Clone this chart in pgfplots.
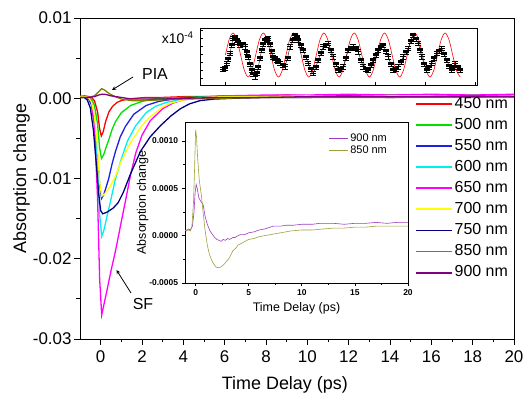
\documentclass[border=0pt]{standalone}
\usepackage{pgfplots}
\pgfplotsset{compat=1.18}
\usepackage{fontspec}
\setmainfont{Liberation Sans}
\definecolor{c450}{RGB}{255,0,0}
\definecolor{c500}{RGB}{0,225,0}
\definecolor{c550}{RGB}{30,30,230}
\definecolor{c600}{RGB}{0,240,240}
\definecolor{c650}{RGB}{255,0,255}
\definecolor{c700}{RGB}{255,255,0}
\definecolor{c750}{RGB}{0,0,128}
\definecolor{c850}{RGB}{128,128,0}
\definecolor{c900}{RGB}{128,0,128}
\definecolor{i850}{RGB}{160,160,60}
\definecolor{i900}{RGB}{160,60,190}
\begin{document}
\begin{tikzpicture}
\useasboundingbox (0bp,0bp) rectangle (524bp,395bp);
% ---------------- main axis
\begin{axis}[at={(80bp,56bp)}, anchor=south west, scale only axis,
  width=434bp, height=321bp,
  xmin=-1, xmax=20, ymin=-0.03, ymax=0.01,
  axis line style={line width=1pt},
  xtick={0,2,...,20}, minor x tick num=1,
  ytick={-0.03,-0.02,-0.01,0,0.01}, minor y tick num=1,
  xtick pos=lower, ytick pos=left, tick align=outside,
  major tick length=6bp, minor tick length=3.5bp,
  tick style={black, line width=1pt},
  scaled y ticks=false,
  ticklabel style={font=\fontsize{17}{20}\selectfont},
  /pgf/number format/assume math mode=true,
  yticklabel style={/pgf/number format/fixed, /pgf/number format/fixed zerofill, /pgf/number format/precision=2, xshift=1bp},
  xticklabel style={yshift=-2bp},
  xlabel={Time Delay (ps)}, ylabel={Absorption change},
  label style={font=\fontsize{18}{21}\selectfont},
  xlabel style={at={(axis description cs:0.472,-0.158)}, anchor=base},
  ylabel style={at={(axis description cs:-0.124,0.5)}, anchor=base},
  legend style={draw=none, fill=none, at={(rel axis cs:0.772,0.762)}, anchor=north west,
    font=\fontsize{16}{19}\selectfont, inner sep=0pt, row sep=2.6bp,
    nodes={inner sep=1.5bp, text height=12bp, text depth=3.5bp}},
  legend cell align=left,
  legend image code/.code={\draw[#1, line width=1.9pt] (0bp,0bp) -- (36bp,0bp);},
  every axis plot/.append style={line width=1.3pt},
]
\addplot[c450] coordinates {(-1,0.0002) (-0.8,0.0003) (-0.6,0.0002) (-0.45,0.0001) (-0.3,-0.0003) (-0.15,-0.0017) (-0.05,-0.0038) (0.03,-0.0047) (0.12,-0.0042) (0.24,-0.0029) (0.4,-0.0017) (0.58,-0.0010) (0.8,-0.0005) (1.0,-0.0003) (1.3,-0.0001) (1.7,0.0000) (2.2,0.0001) (3,0.0001) (4,0.0002) (5,0.0002) (6,0.0003) (7,0.0002) (8,0.0003) (9,0.0004) (10,0.0003) (11,0.0004) (12,0.0003) (13,0.0004) (14,0.0004) (15,0.0003) (16,0.0004) (17,0.0004) (18,0.0003) (19,0.0004) (20,0.0004)};
\addlegendentry{450 nm}
\addplot[c500] coordinates {(-1,0.0002) (-0.8,0.0002) (-0.6,0.0002) (-0.45,0.0000) (-0.3,-0.0009) (-0.15,-0.0032) (-0.05,-0.0062) (0.04,-0.0075) (0.15,-0.0070) (0.25,-0.0062) (0.39,-0.0052) (0.55,-0.0039) (0.72,-0.0029) (1.0,-0.0018) (1.45,-0.0009) (2.0,-0.0004) (2.5,-0.0001) (3,0.0000) (4,0.0001) (5,0.0002) (6,0.0002) (8,0.0003) (10,0.0003) (12,0.0003) (14,0.0004) (16,0.0003) (18,0.0004) (20,0.0004)};
\addlegendentry{500 nm}
\addplot[c550] coordinates {(-1,0.0002) (-0.8,0.0002) (-0.6,0.0000) (-0.45,-0.0008) (-0.3,-0.0032) (-0.15,-0.0072) (-0.05,-0.0108) (0.04,-0.0125) (0.15,-0.0120) (0.25,-0.0112) (0.39,-0.0100) (0.55,-0.0082) (0.72,-0.0066) (0.95,-0.0048) (1.2,-0.0035) (1.6,-0.0020) (2.2,-0.0009) (2.8,-0.0004) (3.5,-0.0001) (4.5,0.0001) (6,0.0002) (8,0.0002) (10,0.0003) (12,0.0003) (14,0.0002) (16,0.0003) (18,0.0003) (20,0.0003)};
\addlegendentry{550 nm}
\addplot[c600] coordinates {(-1,0.0002) (-0.8,0.0002) (-0.6,0.0001) (-0.45,-0.0004) (-0.3,-0.0028) (-0.15,-0.0085) (-0.05,-0.0145) (0.05,-0.0172) (0.15,-0.0165) (0.3,-0.0148) (0.48,-0.0128) (0.7,-0.0102) (0.97,-0.0078) (1.3,-0.0053) (1.7,-0.0034) (2.2,-0.0018) (2.66,-0.0010) (3.2,-0.0005) (4,-0.0001) (5,0.0001) (6,0.0002) (8,0.0002) (10,0.0003) (12,0.0002) (14,0.0003) (16,0.0003) (18,0.0002) (20,0.0003)};
\addlegendentry{600 nm}
\addplot[c650] coordinates {(-1,0.0002) (-0.8,0.0002) (-0.6,0.0002) (-0.45,-0.0003) (-0.3,-0.0035) (-0.15,-0.0125) (-0.05,-0.0225) (0.05,-0.0270) (0.15,-0.0258) (0.3,-0.0240) (0.5,-0.0215) (0.72,-0.0190) (0.95,-0.0160) (1.2,-0.0128) (1.45,-0.0095) (1.7,-0.0068) (2.0,-0.0046) (2.4,-0.0028) (3.0,-0.0013) (3.5,-0.0006) (4,-0.0002) (5,0.0001) (6,0.0003) (8,0.0004) (10,0.0004) (12,0.0005) (14,0.0004) (16,0.0005) (18,0.0004) (20,0.0005)};
\addlegendentry{650 nm}
\addplot[c700] coordinates {(-1,0.0002) (-0.8,0.0002) (-0.6,0.0001) (-0.45,-0.0004) (-0.3,-0.0022) (-0.15,-0.0063) (-0.05,-0.0105) (0.05,-0.0122) (0.2,-0.0119) (0.45,-0.0110) (0.72,-0.0097) (1.0,-0.0078) (1.45,-0.0055) (2.0,-0.0034) (2.4,-0.0023) (3.0,-0.0011) (3.4,-0.0006) (4,-0.0002) (5,0.0001) (6,0.0002) (8,0.0002) (10,0.0003) (12,0.0002) (14,0.0003) (16,0.0003) (18,0.0002) (20,0.0003)};
\addlegendentry{700 nm}
\addplot[c750] coordinates {(-1,0.0001) (-0.8,0.0001) (-0.65,-0.0002) (-0.5,-0.0012) (-0.35,-0.0040) (-0.2,-0.0085) (-0.1,-0.0118) (0.0,-0.0140) (0.1,-0.0144) (0.3,-0.0142) (0.6,-0.0137) (0.85,-0.0130) (1.1,-0.0117) (1.45,-0.0094) (1.93,-0.0066) (2.4,-0.0048) (2.9,-0.0034) (3.4,-0.0022) (3.86,-0.0013) (4.3,-0.0007) (4.8,-0.0003) (5.5,-0.0001) (6.5,0.0000) (8,0.0001) (10,0.0001) (12,0.0002) (14,0.0001) (16,0.0002) (18,0.0002) (20,0.0002)};
\addlegendentry{750 nm}
\addplot[c850] coordinates {(-1,0.0001) (-0.6,0.0001) (-0.3,0.0003) (-0.1,0.0008) (0.05,0.0012) (0.2,0.0010) (0.4,0.0006) (0.7,0.0002) (1.0,-0.0001) (1.5,-0.0003) (2.0,-0.0003) (3,-0.0002) (4,-0.0001) (6,0.0000) (8,0.0001) (10,0.0001) (14,0.0001) (20,0.0002)};
\addlegendentry{850 nm}
\addplot[c900] coordinates {(-1,0.0001) (-0.6,0.0001) (-0.3,0.0002) (-0.1,0.0004) (0.05,0.0005) (0.2,0.0005) (0.5,0.0003) (1.0,0.0001) (1.5,-0.0001) (2.0,-0.0001) (3,-0.0001) (4,0.0000) (6,0.0001) (8,0.0001) (10,0.0002) (14,0.0002) (20,0.0002)};
\addlegendentry{900 nm}
\end{axis}
% ---------------- inset 1 (oscillation)
\begin{axis}[at={(200bp,310bp)}, anchor=south west, scale only axis,
  width=277bp, height=57bp, xmin=0, xmax=277, ymin=0, ymax=57,
  axis background/.style={fill=white},
  axis line style={line width=0.9pt},
  xtick={25,75,125,175,225,275}, ytick={7,15,23,31,39,47,55},
  xticklabels={}, yticklabels={},
  xtick pos=lower, ytick pos=left, tick align=inside,
  major tick length=3bp, tick style={black, line width=0.8pt},
]
\addplot[red, line width=0.6pt, smooth] coordinates {(25.4,30) (29.2,45.6) (33.0,52) (36.8,45.6) (40.6,30) (44.4,14.4) (48.2,8) (51.9,14.4) (55.7,30) (59.5,45.6) (63.3,52) (67.1,45.6) (70.9,30) (74.7,14.4) (78.5,8) (82.2,14.4) (86.0,30) (89.8,45.6) (93.6,52) (97.4,45.6) (101.2,30) (105.0,14.4) (108.8,8) (112.5,14.4) (116.3,30) (120.1,45.6) (123.9,52) (127.7,45.6) (131.5,30) (135.3,14.4) (139.1,8) (142.8,14.4) (146.6,30) (150.4,45.6) (154.2,52) (158.0,45.6) (161.8,30) (165.6,14.4) (169.4,8) (173.1,14.4) (176.9,30) (180.7,45.6) (184.5,52) (188.3,45.6) (192.1,30) (195.9,14.4) (199.7,8) (203.4,14.4) (207.2,30) (211.0,45.6) (214.8,52) (218.6,45.6) (222.4,30) (226.2,14.4) (230.0,8) (233.7,14.4) (237.5,30) (241.3,45.6) (245.1,52) (248.9,45.6) (252.7,30) (256.5,14.4) (260.3,8)};
\addplot[black, line width=0.4pt, mark=-, mark size=3bp, mark options={line width=1.3pt},
  error bars/.cd, y dir=both, y fixed=2.2, error mark=-, error bar style={line width=0.5pt}]
 coordinates {(23.3,15.7) (25.0,17) (26.7,21.7) (28.3,26) (30,31.7) (31.7,40) (33.3,46.7) (35,48) (36.7,45) (38.3,43) (40,40) (42.5,41) (45,38.3) (46.7,33) (48.3,28) (50,21) (51.7,15) (53.3,11) (55,8.3) (56.7,12) (58.3,18) (60,27) (61.7,35) (63.3,41) (65,45) (66.7,46) (68.3,46.7) (70,41) (71.7,34) (73.3,28) (75,27) (76.7,25) (78.3,24) (80,21.7) (82.5,20) (85,18.3) (87.5,27) (90,38.3) (92.5,45) (95,50) (96.7,48) (98.3,45) (100.8,40) (103.3,35) (105.8,28) (108.3,21.7) (110.8,16) (113.3,11.7) (115.8,18) (118.3,25) (120.8,32) (123.3,38.3) (125.8,40) (128.3,41.7) (130.8,35) (133.3,28.3) (135.8,21) (138.3,15) (140.8,16) (143.3,18.3) (145.8,27) (148.3,35) (150.8,37) (153.3,38.3) (155.8,37) (158.3,33.3) (160.8,25) (163.3,18.3) (165.8,16) (168.3,15) (170.8,20) (173.3,25) (175.8,30) (178.3,35) (180.8,38) (183.3,40) (185.8,34) (188.3,28.3) (190.8,21) (193.3,15) (195.8,16) (198.3,18.3) (200.8,23) (203.3,28.3) (205.8,33) (208.3,36.7) (210.8,44) (213.3,50) (215.8,46) (218.3,41.7) (220,35) (221.7,28.3) (224.2,21) (226.7,15) (229.2,18) (231.7,21.7) (234.2,27) (236.7,31.7) (239.2,34) (241.7,36.7) (244.2,31) (246.7,25) (249.2,19) (251.7,15) (253.3,18) (255,21.7) (257.5,18) (260,15)};
\end{axis}
\node[anchor=east, font=\fontsize{14}{16}\selectfont] at (197bp,357bp) {x10\textsuperscript{-4}};
% ---------------- inset 2
\begin{axis}[at={(185bp,112bp)}, anchor=south west, scale only axis,
  width=223bp, height=161bp,
  xmin=-1, xmax=20, ymin=-0.0005, ymax=0.0012,
  axis background/.style={fill=white},
  axis line style={line width=0.8pt},
  xtick={0,5,10,15,20}, minor x tick num=1,
  ytick={-0.0005,0,0.0005,0.001}, minor y tick num=1,
  xtick pos=lower, ytick pos=left, tick align=outside,
  major tick length=3.5bp, minor tick length=2bp,
  tick style={black, line width=0.7pt},
  scaled y ticks=false,
  ticklabel style={font=\fontsize{8.5}{10}\selectfont\bfseries},
  /pgf/number format/assume math mode=true,
  yticklabel style={/pgf/number format/fixed, /pgf/number format/fixed zerofill, /pgf/number format/precision=4},
  xlabel={Time Delay (ps)}, ylabel={Absorption change},
  label style={font=\fontsize{12.5}{14}\selectfont},
  xlabel style={at={(axis description cs:0.5,-0.18)}, anchor=base},
  ylabel style={at={(axis description cs:-0.175,0.5)}, anchor=base},
  legend style={draw=none, fill=none, at={(rel axis cs:0.645,0.935)}, anchor=north west,
    font=\fontsize{11}{13}\selectfont, inner sep=0pt, row sep=0pt,
    nodes={inner sep=1.5bp}},
  legend cell align=left,
  legend image code/.code={\draw[#1, line width=0.8pt] (0bp,0bp) -- (19bp,0bp);},
  every axis plot/.append style={line width=0.6pt},
]
\addplot[i900] coordinates {(-1,0.00006) (-0.85,0.00005) (-0.7,0.00007) (-0.5,0.00006) (-0.3,0.0001) (-0.15,0.00025) (-0.05,0.00045) (0.05,0.00054) (0.15,0.0005) (0.3,0.0004) (0.5,0.00036) (0.7,0.00033) (0.9,0.0002) (1.1,0.00012) (1.35,0.00005) (1.6,0.00001) (1.8,-0.00002) (2.0,-0.00004) (2.2,-0.00005) (2.4,-0.00006) (2.6,-0.00004) (2.8,-0.00005) (3.0,-0.00003) (3.2,-0.00004) (3.5,-0.00002) (3.7,-0.00002) (4.0,0.0) (4.2,0.00001) (4.6,0.00001) (5,0.00003) (5.5,0.00004) (6,0.00006) (6.5,0.00007) (7.3,0.0001) (8,0.0001) (8.5,0.00011) (9.2,0.00011) (10,0.00012) (11,0.00012) (11.7,0.00013) (13,0.00013) (14,0.00012) (15,0.00013) (16,0.00013) (17,0.00014) (18,0.00013) (19,0.00014) (20,0.00014)};
\addlegendentry{900 nm}
\addplot[i850] coordinates {(-1,0.00005) (-0.85,0.00006) (-0.7,0.00006) (-0.5,0.00005) (-0.35,0.0001) (-0.2,0.00035) (-0.1,0.0007) (0,0.00112) (0.08,0.00105) (0.2,0.0008) (0.35,0.00058) (0.54,0.00043) (0.7,0.00025) (0.9,0.00005) (1.1,-0.0001) (1.3,-0.0002) (1.6,-0.00028) (1.9,-0.00033) (2.1,-0.00034) (2.4,-0.00033) (2.7,-0.0003) (3.0,-0.00026) (3.2,-0.00023) (3.5,-0.00016) (3.8,-0.00013) (4.0,-0.0001) (4.5,-0.00007) (5,-0.00004) (5.5,-0.00003) (6,-0.00001) (6.5,0.0) (7,0.00001) (7.5,0.00002) (8,0.00003) (9,0.00005) (10,0.00006) (11,0.00006) (12,0.00007) (13,0.00008) (14,0.00008) (15,0.00009) (16,0.00009) (17,0.0001) (18,0.0001) (19,0.0001) (20,0.0001)};
\addlegendentry{850 nm}
\end{axis}
% ---------------- annotations
\draw[-stealth, line width=0.8pt] (133bp,318bp) -- (112bp,305bp);
\node[font=\fontsize{16}{18}\selectfont] at (155bp,321bp) {PIA};
\draw[-stealth, line width=0.8pt] (131bp,102bp) -- (116.5bp,125bp);
\node[font=\fontsize{16}{18}\selectfont] at (143bp,91bp) {SF};
\end{tikzpicture}
\end{document}
